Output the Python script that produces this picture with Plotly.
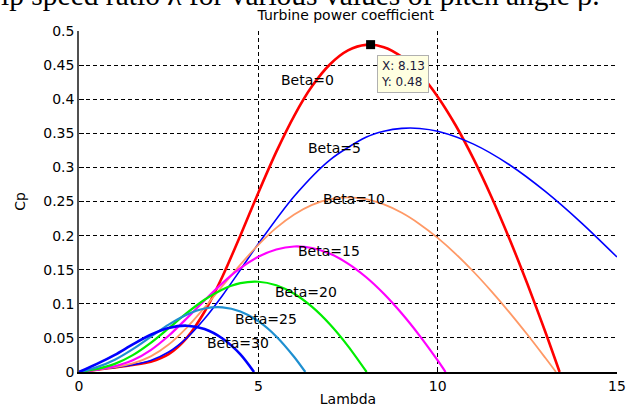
import plotly.graph_objects as go

# ---- data ----
lam_b0 = [0, 0.5, 1, 1.5, 2, 2.5, 3, 3.5, 4, 4.5, 5, 5.5, 6, 6.5, 7, 7.5, 8, 8.5, 9, 9.5, 10, 10.5, 11, 11.5, 12, 12.5, 13, 13.4]
cp_b0 = [0, 0.0034, 0.0068, 0.0103, 0.0151, 0.0261, 0.0496, 0.0883, 0.1401, 0.2003, 0.2629, 0.3227, 0.3757, 0.4192, 0.4513, 0.4716, 0.4796, 0.4763, 0.4620, 0.4374, 0.4037, 0.3618, 0.3125, 0.2567, 0.1954, 0.1293, 0.0590, 0.0]

lam_b5 = [0, 0.5, 1, 1.5, 2, 2.5, 3, 3.5, 4, 4.5, 5, 6, 7, 8, 8.5, 9, 9.5, 10, 11, 12, 13, 14, 15]
cp_b5 = [0, 0.0034, 0.0068, 0.0106, 0.0170, 0.0293, 0.0497, 0.0781, 0.1123, 0.1498, 0.1880, 0.2578, 0.3112, 0.3441, 0.3530, 0.3572, 0.3571, 0.3529, 0.3341, 0.3039, 0.2648, 0.2191, 0.1686]

lam_b10 = [0, 0.5, 1, 1.5, 2, 2.5, 3, 3.5, 4, 4.5, 5, 5.5, 6, 6.5, 7, 7.5, 8, 8.5, 9, 9.5, 10, 10.5, 11, 11.5, 12, 12.5, 13, 13.3]
cp_b10 = [0, 0.0034, 0.0070, 0.0125, 0.0229, 0.0403, 0.0648, 0.0943, 0.1261, 0.1575, 0.1864, 0.2113, 0.2310, 0.2451, 0.2535, 0.2561, 0.2534, 0.2457, 0.2334, 0.2168, 0.1967, 0.1733, 0.1470, 0.1183, 0.0875, 0.0549, 0.0208, 0.0]

lam_b15 = [0, 0.5, 1, 1.5, 2, 2.5, 3, 3.5, 4, 4.5, 5, 5.5, 6, 6.5, 7, 7.5, 8, 8.5, 9, 9.5, 10, 10.22]
cp_b15 = [0, 0.0035, 0.0084, 0.0171, 0.0321, 0.0531, 0.0784, 0.1050, 0.1304, 0.1522, 0.1689, 0.1797, 0.1840, 0.1818, 0.1734, 0.1590, 0.1393, 0.1147, 0.0857, 0.0530, 0.0169, 0.0]

lam_b20 = [0, 0.5, 1, 1.5, 2, 2.5, 3, 3.5, 4, 4.5, 5, 5.5, 6, 6.5, 7, 7.5, 8.02]
cp_b20 = [0, 0.0044, 0.0119, 0.0247, 0.0427, 0.0642, 0.0862, 0.1059, 0.1211, 0.1302, 0.1323, 0.1271, 0.1147, 0.0954, 0.0696, 0.0380, 0.0]

lam_b25 = [0, 0.5, 1, 1.5, 2, 2.5, 3, 3.5, 4, 4.5, 5, 5.5, 6, 6.31]
cp_b25 = [0, 0.0071, 0.0180, 0.0335, 0.0516, 0.0695, 0.0840, 0.0931, 0.0949, 0.0888, 0.0745, 0.0521, 0.0220, 0.0]

lam_b30 = [0, 0.5, 1, 1.5, 2, 2.5, 3, 3.5, 4, 4.5, 4.88]
cp_b30 = [0, 0.0119, 0.0252, 0.0405, 0.0546, 0.0645, 0.0679, 0.0630, 0.0491, 0.0259, 0.0]

series_names = ["Beta=0", "Beta=5", "Beta=10", "Beta=15", "Beta=20", "Beta=25", "Beta=30"]
series_lams = [lam_b0, lam_b5, lam_b10, lam_b15, lam_b20, lam_b25, lam_b30]
series_cps = [cp_b0, cp_b5, cp_b10, cp_b15, cp_b20, cp_b25, cp_b30]
series_colors = ["#FF0000", "#0000FF", "#FF9966", "#FF00FF", "#00EE00", "#1E8FD0", "#0000FF"]
series_widths = [2.6, 1.6, 1.8, 2.2, 2.2, 2.2, 2.6]

# label positions (lambda, Cp)
label_x = [6.37, 7.12, 7.68, 6.98, 6.34, 5.20, 4.44]
label_y = [0.428, 0.328, 0.253, 0.177, 0.118, 0.078, 0.043]

tip_x = [8.13]
tip_y = [0.48]

x_ticks = [0, 5, 10, 15]
y_ticks = [0, 0.05, 0.1, 0.15, 0.2, 0.25, 0.3, 0.35, 0.4, 0.45, 0.5]
y_tick_text = ["0", "0.05", "0.1", "0.15", "0.2", "0.25", "0.3", "0.35", "0.4", "0.45", "0.5"]

FONT = "DejaVu Sans, Arial, sans-serif"

fig = go.Figure()
for lam, cp, col, w, nm in zip(series_lams, series_cps, series_colors, series_widths, series_names):
    fig.add_trace(go.Scatter(x=lam, y=cp, mode="lines", name=nm,
                             line=dict(color=col, width=w, shape="spline", smoothing=0.8),
                             showlegend=False, hoverinfo="skip"))

fig.add_trace(go.Scatter(x=tip_x, y=tip_y, mode="markers",
                         marker=dict(symbol="square", size=9, color="black"),
                         showlegend=False, hoverinfo="skip"))

for nm, lx, ly in zip(series_names, label_x, label_y):
    fig.add_annotation(x=lx, y=ly, text=nm, showarrow=False,
                       font=dict(family=FONT, size=14, color="black"),
                       xanchor="center", yanchor="middle")

fig.add_annotation(x=tip_x[0], y=tip_y[0], text="X: 8.13<br>Y: 0.48",
                   showarrow=True, arrowcolor="rgba(0,0,0,0)", arrowwidth=0.1,
                   ax=6, ay=10, xanchor="left", yanchor="top", align="left",
                   bgcolor="#FFFFE1", bordercolor="#B0B0B0", borderwidth=1, borderpad=3,
                   font=dict(family=FONT, size=12, color="#1a1a3a"))

# cropped caption text at the very top of the picture (from the source document)
fig.add_annotation(xref="paper", yref="paper", x=-0.149, y=1.054,
                   text="ip speed ratio \u03bb for various values of pitch angle \u03b2.",
                   showarrow=False, xanchor="left", yanchor="bottom",
                   font=dict(family="Liberation Serif, Times New Roman, serif", size=29.5, color="black"))

fig.update_layout(
    width=632, height=407,
    margin=dict(l=79, r=15, t=31, b=35),
    paper_bgcolor="white", plot_bgcolor="white",
    title=dict(text="Turbine power coefficient", x=0.547, xanchor="center",
               y=0.963, yanchor="middle", font=dict(family=FONT, size=14, color="black")),
    font=dict(family=FONT, size=14, color="black"),
)

fig.update_xaxes(range=[0, 15], tickvals=x_ticks, ticktext=[str(t) for t in x_ticks],
                 showgrid=True, gridcolor="black", gridwidth=1, griddash="4px,3px",
                 showline=True, linecolor="black", linewidth=1.5,
                 ticks="inside", ticklen=5, tickcolor="black",
                 zeroline=False, automargin=False,
                 title=dict(text="Lambda", standoff=4, font=dict(family=FONT, size=14)),
                 tickfont=dict(family=FONT, size=14, color="black"))
fig.update_yaxes(range=[0, 0.5], tickvals=y_ticks, ticktext=y_tick_text,
                 showgrid=True, gridcolor="black", gridwidth=1, griddash="4px,3px",
                 showline=True, linecolor="#505050", linewidth=1.5,
                 ticks="inside", ticklen=5, tickcolor="black",
                 zeroline=False, automargin=False,
                 title=dict(text="Cp", standoff=14, font=dict(family=FONT, size=14)),
                 tickfont=dict(family=FONT, size=14, color="black"))

fig.write_html("out.html")
